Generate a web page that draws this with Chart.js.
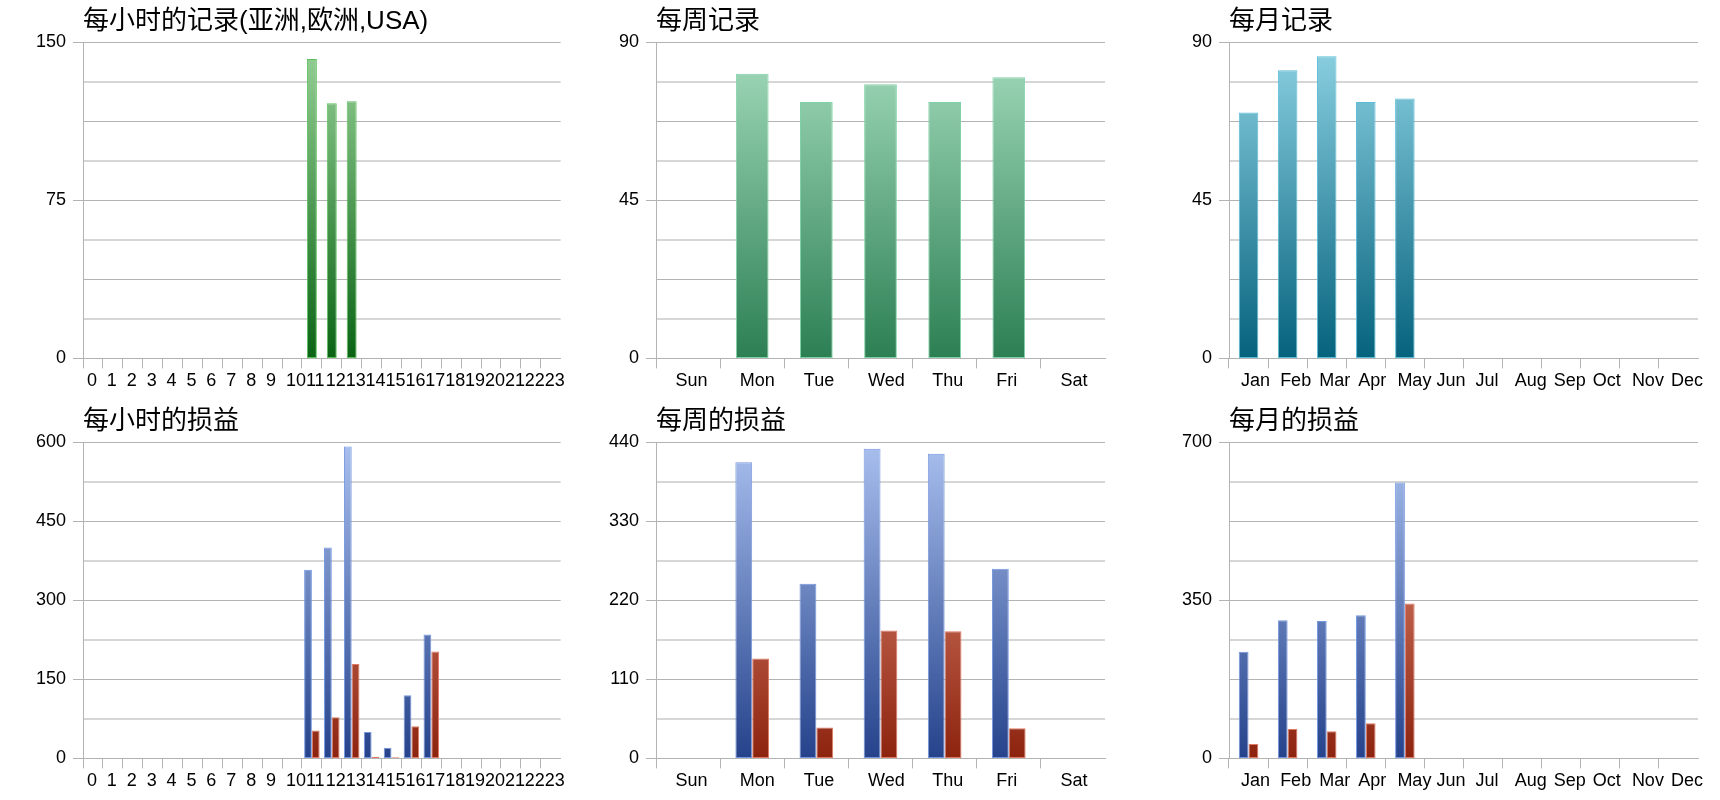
<!DOCTYPE html>
<html>
<head>
<meta charset="utf-8">
<script src="https://cdn.jsdelivr.net/npm/chart.js@4/dist/chart.umd.min.js"></script>
<style>
	html, body { margin: 0; padding: 0; background: #fff; }
	body { position: relative; width: 1720px; height: 800px; overflow: hidden; }
	canvas { position: absolute; }
</style>
</head>
<body>
<canvas id="hourRec" width="573" height="400" style="left:0;top:0"></canvas>
<canvas id="weekRec" width="573" height="400" style="left:573px;top:0"></canvas>
<canvas id="monthRec" width="574" height="400" style="left:1146px;top:0"></canvas>
<canvas id="hourPL" width="573" height="400" style="left:0;top:400px"></canvas>
<canvas id="weekPL" width="573" height="400" style="left:573px;top:400px"></canvas>
<canvas id="monthPL" width="574" height="400" style="left:1146px;top:400px"></canvas>
<script>
const hours = ["0", "1", "2", "3", "4", "5", "6", "7", "8", "9", "10", "11", "12", "13", "14", "15", "16", "17", "18", "19", "20", "21", "22", "23"];
const weekdays = ["Sun", "Mon", "Tue", "Wed", "Thu", "Fri", "Sat"];
const months = ["Jan", "Feb", "Mar", "Apr", "May", "Jun", "Jul", "Aug", "Sep", "Oct", "Nov", "Dec"];

const hourlyRecords = [0, 0, 0, 0, 0, 0, 0, 0, 0, 0, 0, 142, 121, 122, 0, 0, 0, 0, 0, 0, 0, 0, 0, 0];
const weeklyRecords = [0, 81, 73, 78, 73, 80, 0];
const monthlyRecords = [70, 82, 86, 73, 74, 0, 0, 0, 0, 0, 0, 0];

const hourlyProfit = [0, 0, 0, 0, 0, 0, 0, 0, 0, 0, 0, 358, 400, 592, 50, 20, 120, 235, 0, 0, 0, 0, 0, 0];
const hourlyLoss = [0, 0, 0, 0, 0, 0, 0, 0, 0, 0, 0, 53, 78, 179, 3, 2, 61, 203, 0, 0, 0, 0, 0, 0];
const weeklyProfit = [0, 412, 243, 431, 424, 264, 0];
const weeklyLoss = [0, 139, 43, 178, 177, 42, 0];
const monthlyProfit = [236, 306, 304, 317, 611, 0, 0, 0, 0, 0, 0, 0];
const monthlyLoss = [32, 65, 60, 78, 343, 0, 0, 0, 0, 0, 0, 0];

const hourRecTicks = [0, 75, 150];
const weekRecTicks = [0, 45, 90];
const monthRecTicks = [0, 45, 90];
const hourPLTicks = [0, 150, 300, 450, 600];
const weekPLTicks = [0, 110, 220, 330, 440];
const monthPLTicks = [0, 350, 700];

const DARK = "#b3b3b3";
const LIGHT = "#d6d6d6";
const FONT = "'Liberation Sans', Arial, 'Noto Sans CJK SC', sans-serif";

// vertical gradient over the plot area, dark at 0 and light at the top
const grad = (c0, c1) => (ctx) => {
	const area = ctx.chart.chartArea;
	if (!area) return c0;
	const g = ctx.chart.ctx.createLinearGradient(0, area.bottom, 0, area.top);
	g.addColorStop(0, c0);
	g.addColorStop(1, c1);
	return g;
};

const green = { backgroundColor: grad("#0a6414", "#98d298"), borderColor: "#5cbf5c" };
const mint = { backgroundColor: grad("#2c7f53", "#a4dcbd"), borderColor: "#80d2a6" };
const teal = { backgroundColor: grad("#05627d", "#8dd2e3"), borderColor: "#5bbcd8" };
const blue = { backgroundColor: grad("#25428b", "#a9c0ef"), borderColor: "#7396e0" };
const red = { backgroundColor: grad("#8c230f", "#f09c84"), borderColor: "#e07a62" };

const makeChart = (id, title, labels, datasets, ticks, opts) => {
	const max = ticks[ticks.length - 1];
	return new Chart(document.getElementById(id), {
		type: "bar",
		data: {
			labels: labels,
			datasets: datasets.map((d) => ({
				data: d.data,
				backgroundColor: d.style.backgroundColor,
				borderColor: d.style.borderColor,
				borderWidth: 1,
				borderSkipped: false,
				barPercentage: opts.bar,
				categoryPercentage: opts.cat,
			})),
		},
		options: {
			responsive: false,
			animation: false,
			layout: { padding: { top: 0, left: 0, right: opts.right, bottom: 6 } },
			plugins: {
				legend: { display: false },
				tooltip: { enabled: false },
				title: {
					display: true,
					text: title,
					align: "start",
					fullSize: false,
					color: "#000",
					font: { family: "'Liberation Sans', 'Noto Sans CJK SC', sans-serif", size: 26, weight: "normal" },
					padding: { top: 6, bottom: 5 },
				},
			},
			scales: {
				x: {
					grid: {
						offset: true,
						drawOnChartArea: false,
						drawTicks: true,
						tickLength: 10,
						color: DARK,
						tickColor: (c) => (c.index === undefined ? "transparent" : DARK),
					},
					border: { display: true, color: DARK },
					ticks: {
						autoSkip: false,
						maxRotation: 0,
						minRotation: 0,
						padding: 2,
						// labels start a few px after each category's left edge
						align: "start",
						labelOffset: opts.labelOffset,
						color: "#000",
						font: { family: FONT, size: 18 },
					},
				},
				y: {
					min: 0,
					max: max,
					afterFit: (s) => {
						s.width = 83;
					},
					grid: {
						color: (c) => (c.index % 2 ? LIGHT : DARK),
						lineWidth: (c) => (c.index % 2 ? 2 : 1),
						tickLength: 10,
						tickColor: (c) => (c.tick && ticks.includes(c.tick.value) ? DARK : "transparent"),
					},
					border: { display: true, color: DARK },
					ticks: {
						stepSize: max / 8,
						padding: 7,
						color: "#000",
						font: { family: FONT, size: 18 },
						callback: (v) => (ticks.includes(v) ? v : ""),
					},
				},
			},
		},
	});
};

makeChart("hourRec", "每小时的记录(亚洲,欧洲,USA)", hours,
	[{ data: hourlyRecords, style: green }], hourRecTicks, { bar: 0.5, cat: 1, right: 11, labelOffset: -6 });
makeChart("weekRec", "每周记录", weekdays,
	[{ data: weeklyRecords, style: mint }], weekRecTicks, { bar: 0.51, cat: 1, right: 41, labelOffset: -12.5 });
makeChart("monthRec", "每月记录", months,
	[{ data: monthlyRecords, style: teal }], monthRecTicks, { bar: 0.5, cat: 1, right: 22, labelOffset: -7.5 });
makeChart("hourPL", "每小时的损益", hours,
	[{ data: hourlyProfit, style: blue }, { data: hourlyLoss, style: red }], hourPLTicks, { bar: 1, cat: 0.78, right: 11, labelOffset: -6 });
makeChart("weekPL", "每周的损益", weekdays,
	[{ data: weeklyProfit, style: blue }, { data: weeklyLoss, style: red }], weekPLTicks, { bar: 1, cat: 0.525, right: 41, labelOffset: -12.5 });
makeChart("monthPL", "每月的损益", months,
	[{ data: monthlyProfit, style: blue }, { data: monthlyLoss, style: red }], monthPLTicks, { bar: 1, cat: 0.5, right: 22, labelOffset: -7.5 });
</script>
</body>
</html>
